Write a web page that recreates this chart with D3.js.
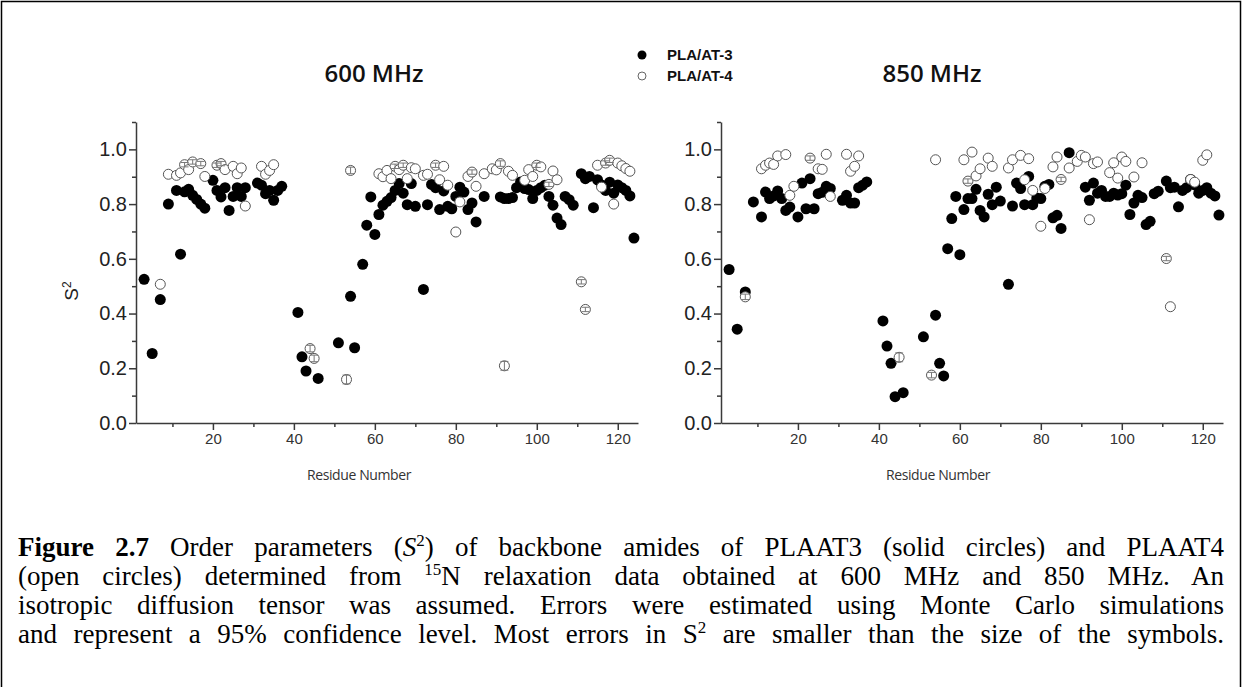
<!DOCTYPE html>
<html>
<head>
<meta charset="utf-8">
<script src="https://cdn.jsdelivr.net/npm/d3@7"></script>
<style>
body { margin: 0; background: #fff; }
svg { display: block; }
.axis path, .axis line { stroke: #3a3a3a; stroke-width: 1.5; }
.ylab text { font-family: "Liberation Sans", Arial, sans-serif; font-size: 20px; fill: #222; }
.xlab text { font-family: "Liberation Sans", Arial, sans-serif; font-size: 15px; fill: #333; }
</style>
</head>
<body>
<svg width="1246" height="687"></svg>
<script>
// S2 values: [residue, S2]
var s2_600_plaat3 = [[3,0.525],[5,0.254],[7,0.451],[9,0.80],[11,0.85],[12,0.617],[13,0.845],[14,0.854],[15,0.832],[16,0.817],[17,0.80],[18,0.785],[20,0.887],[21,0.85],[22,0.826],[23,0.86],[24,0.777],[25,0.828],[26,0.86],[27,0.828],[28,0.86],[31,0.877],[32,0.869],[33,0.838],[34,0.85],[35,0.814],[36,0.85],[37,0.865],
    [41,0.404],[42,0.242],[43,0.19],[46,0.163],[51,0.293],[54,0.463],[55,0.275],[57,0.58],[58,0.723],[59,0.826],[60,0.689],[61,0.762],[62,0.796],[63,0.81],[64,0.824],[65,0.85],[66,0.875],[67,0.84],[68,0.798],[69,0.875],[70,0.792],[72,0.488],[73,0.798],[74,0.872],[75,0.86],[76,0.78],[77,0.848],[78,0.792],[79,0.783],[80,0.828],[81,0.862],[82,0.844],[83,0.78],[84,0.804],[85,0.735],[87,0.828],
    [91,0.826],[92,0.82],[93,0.82],[94,0.824],[95,0.86],[96,0.881],[97,0.857],[98,0.853],[99,0.82],[100,0.85],[101,0.86],[102,0.869],[103,0.828],[104,0.796],[105,0.749],[106,0.725],[107,0.828],[108,0.816],[109,0.796],[111,0.911],[112,0.893],[113,0.901],[114,0.787],[115,0.889],[116,0.87],[117,0.85],[118,0.88],[119,0.84],[120,0.87],[121,0.86],[122,0.85],[123,0.83],[124,0.676]];

var s2_600_plaat4 = [[7,0.507],[9,0.909],[11,0.905],[12,0.914],[13,0.944],[14,0.926],[15,0.954],[17,0.948],[18,0.901],[21,0.942],[22,0.948],[23,0.926],[25,0.938],[26,0.911],[27,0.932],[28,0.793],[32,0.938],[33,0.909],[34,0.923],[35,0.944],
    [44,0.272],[45,0.236],[53,0.159],[54,0.923],[61,0.911],[62,0.90],[63,0.923],[64,0.893],[65,0.938],[66,0.926],[67,0.942],[68,0.893],[69,0.933],[70,0.929],[72,0.905],[73,0.909],[75,0.942],[76,0.889],[77,0.938],[78,0.869],[80,0.698],[81,0.808],[83,0.901],[84,0.917],[85,0.865],[87,0.911],[89,0.929],[90,0.925],
    [91,0.948],[92,0.209],[93,0.92],[94,0.905],[97,0.887],[98,0.926],[99,0.901],[100,0.942],[101,0.936],[103,0.872],[104,0.921],[105,0.889],[111,0.516],[112,0.415],[115,0.942],[116,0.862],[117,0.95],[118,0.96],[119,0.80],[120,0.95],[121,0.94],[122,0.93],[123,0.92]];

var s2_850_plaat3 = [[3,0.561],[5,0.343],[7,0.479],[9,0.808],[11,0.753],[12,0.844],[13,0.82],[14,0.83],[15,0.848],[16,0.82],[17,0.777],[18,0.789],[20,0.753],[21,0.877],[22,0.783],[23,0.893],[24,0.783],[25,0.838],[26,0.843],[27,0.865],[28,0.857],[31,0.814],[32,0.832],[33,0.804],[34,0.804],[35,0.86],[36,0.869],[37,0.881],
    [41,0.373],[42,0.281],[43,0.218],[44,0.096],[46,0.111],[51,0.315],[54,0.394],[55,0.218],[56,0.172],[57,0.637],[58,0.747],[59,0.828],[60,0.615],[61,0.78],[62,0.82],[63,0.82],[64,0.854],[65,0.777],[66,0.753],[67,0.836],[68,0.798],[69,0.862],[70,0.811],[72,0.507],[73,0.793],[74,0.877],[75,0.857],[76,0.798],[77,0.901],[78,0.798],[79,0.822],[80,0.82],[81,0.865],[82,0.872],[83,0.75],[84,0.759],[85,0.711],[87,0.988],
    [91,0.862],[92,0.814],[93,0.877],[94,0.84],[95,0.85],[96,0.828],[97,0.828],[98,0.84],[99,0.833],[100,0.838],[101,0.869],[102,0.762],[103,0.804],[104,0.832],[105,0.824],[106,0.725],[107,0.737],[108,0.838],[109,0.847],[111,0.884],[112,0.86],[113,0.862],[114,0.79],[115,0.85],[116,0.86],[117,0.89],[118,0.87],[119,0.84],[120,0.85],[121,0.86],[122,0.84],[123,0.83],[124,0.76]];

var s2_850_plaat4 = [[7,0.461],[11,0.929],[12,0.942],[13,0.95],[14,0.945],[15,0.976],[17,0.981],[18,0.832],[19,0.865],[23,0.968],[25,0.929],[26,0.927],[27,0.982],[28,0.828],[32,0.982],[33,0.92],[34,0.938],[35,0.976],
    [45,0.24],[53,0.175],[54,0.962],[61,0.962],[62,0.884],[63,0.99],[64,0.903],[65,0.929],[67,0.968],[68,0.938],[72,0.932],[73,0.962],[75,0.978],[76,0.889],[77,0.966],[78,0.85],[80,0.719],[81,0.857],[83,0.936],[84,0.972],[85,0.89],[87,0.932],[89,0.956],[90,0.978],
    [91,0.972],[92,0.743],[93,0.948],[94,0.954],[97,0.915],[98,0.951],[99,0.895],[100,0.972],[101,0.956],[103,0.899],[105,0.951],[111,0.601],[112,0.425],[117,0.89],[118,0.88],[120,0.96],[121,0.98]];

// visible error bars on PLAAT4 points: [residue, error]
var err_600_plaat4 = [[13,0.008],[15,0.008],[17,0.008],[21,0.008],[22,0.008],[44,0.012],[45,0.012],[53,0.016],[54,0.012],[65,0.008],[67,0.008],[75,0.008],[84,0.008],[91,0.01],[92,0.016],[100,0.008],[103,0.008],[111,0.008],[112,0.008],[117,0.008],[118,0.008]];
var err_850_plaat4 = [[7,0.01],[23,0.008],[45,0.016],[53,0.01],[62,0.008],[85,0.008],[111,0.008]];

var xMajor = [20, 40, 60, 80, 100, 120];
var xMinor = [10, 30, 50, 70, 90, 110];
var yMajor = [0, 0.2, 0.4, 0.6, 0.8, 1.0];
var yMinor = [0.1, 0.3, 0.5, 0.7, 0.9, 1.1];
var legendNames = ['PLA/AT-3', 'PLA/AT-4'];

var svg = d3.select('svg');

// frame round the figure
svg.append('rect')
    .attr('x', 1.5).attr('y', 1.5)
    .attr('width', 1239).attr('height', 720)
    .attr('fill', 'none').attr('stroke', '#000').attr('stroke-width', 1.5);

var panels = [
    {title: '600 MHz', left: 136, titleX: 374, labelX: 359, solid: s2_600_plaat3, open: s2_600_plaat4, err: err_600_plaat4, yTitle: true},
    {title: '850 MHz', left: 721, titleX: 932, labelX: 938, solid: s2_850_plaat3, open: s2_850_plaat4, err: err_850_plaat4, yTitle: false}
];

var plotW = 502, plotTop = 122, plotBottom = 423;

var yScale = d3.scaleLinear().domain([0, 1.1]).range([plotBottom, plotTop]);

panels.forEach(function(p) {
    var xScale = d3.scaleLinear().domain([1, 125]).range([p.left, p.left + plotW]);

    // y axis
    svg.append('g').attr('class', 'axis ylab')
        .attr('transform', 'translate(' + p.left + ',0)')
        .call(d3.axisLeft(yScale).tickValues(yMajor).tickFormat(d3.format('.1f'))
            .tickSize(7).tickSizeOuter(0).tickPadding(2));
    svg.append('g').attr('class', 'axis')
        .attr('transform', 'translate(' + p.left + ',0)')
        .call(d3.axisLeft(yScale).tickValues(yMinor).tickFormat('').tickSize(4).tickSizeOuter(0))
        .select('.domain').remove();

    // x axis
    svg.append('g').attr('class', 'axis xlab')
        .attr('transform', 'translate(0,' + plotBottom + ')')
        .call(d3.axisBottom(xScale).tickValues(xMajor).tickSize(7).tickSizeOuter(0).tickPadding(3));
    svg.append('g').attr('class', 'axis')
        .attr('transform', 'translate(0,' + plotBottom + ')')
        .call(d3.axisBottom(xScale).tickValues(xMinor).tickFormat('').tickSize(4).tickSizeOuter(0))
        .select('.domain').remove();

    svg.append('text')
        .attr('x', p.labelX).attr('y', 480)
        .attr('text-anchor', 'middle')
        .style('font-family', '"Open Sans", sans-serif').style('font-size', '14px')
        .style('fill', '#333').style('letter-spacing', '-0.4px')
        .text('Residue Number');

    svg.append('text')
        .attr('x', p.titleX).attr('y', 82)
        .attr('text-anchor', 'middle')
        .style('font-family', '"Open Sans", sans-serif').style('font-size', '24px')
        .style('font-weight', 600).style('fill', '#111')
        .text(p.title);

    if (p.yTitle) {
        var yt = svg.append('text')
            .attr('transform', 'translate(78,291) rotate(-90)')
            .attr('text-anchor', 'middle')
            .style('font-family', '"Liberation Sans", Arial, sans-serif').style('font-size', '19px')
            .style('fill', '#222');
        yt.append('tspan').text('S');
        yt.append('tspan').attr('dy', -7).style('font-size', '12px').text('2');
    }

    // solid circles
    svg.append('g').selectAll('circle')
        .data(p.solid).enter().append('circle')
        .attr('cx', function(d) { return xScale(d[0]); })
        .attr('cy', function(d) { return yScale(d[1]); })
        .attr('r', 5.5)
        .attr('fill', '#000');

    // open circles
    svg.append('g').selectAll('circle')
        .data(p.open).enter().append('circle')
        .attr('cx', function(d) { return xScale(d[0]); })
        .attr('cy', function(d) { return yScale(d[1]); })
        .attr('r', 5)
        .attr('fill', '#fff')
        .attr('stroke', '#555').attr('stroke-width', 1);

    // error bars on open circles
    var lookup = new Map(p.open);
    var eb = svg.append('g').attr('stroke', '#777').attr('stroke-width', 1);
    p.err.forEach(function(e) {
        var v = lookup.get(e[0]);
        var cx = xScale(e[0]);
        var y1 = yScale(v - e[1]), y2 = yScale(v + e[1]);
        eb.append('line').attr('x1', cx).attr('x2', cx).attr('y1', y1).attr('y2', y2);
        eb.append('line').attr('x1', cx - 4).attr('x2', cx + 4).attr('y1', y1).attr('y2', y1);
        eb.append('line').attr('x1', cx - 4).attr('x2', cx + 4).attr('y1', y2).attr('y2', y2);
    });
});

// legend
var legend = svg.append('g').attr('transform', 'translate(642,55)');
legendNames.forEach(function(name, i) {
    var row = legend.append('g').attr('transform', 'translate(0,' + (i * 21) + ')');
    if (i === 0) {
        row.append('circle').attr('r', 4.5).attr('fill', '#000');
    } else {
        row.append('circle').attr('r', 4).attr('fill', '#fff').attr('stroke', '#666').attr('stroke-width', 1);
    }
    row.append('text').attr('x', 25).attr('y', 5)
        .style('font-family', '"Liberation Sans", Arial, sans-serif').style('font-size', '15px')
        .style('font-weight', 'bold').style('fill', '#111')
        .text(name);
});

// caption, justified lines
var captionLines = [
    [{t: 'Figure 2.7', b: true}, {t: ' Order parameters ('}, {t: 'S', i: true}, {t: '2', sup: true}, {t: ') of backbone amides of PLAAT3 (solid circles) and PLAAT4'}],
    [{t: '(open circles) determined from '}, {t: '15', sup: true}, {t: 'N relaxation data obtained at 600 MHz and 850 MHz. An'}],
    [{t: 'isotropic diffusion tensor was assumed. Errors were estimated using Monte Carlo simulations'}],
    [{t: 'and represent a 95% confidence level. Most errors in S'}, {t: '2', sup: true}, {t: ' are smaller than the size of the symbols.'}]
];
var capLeft = 18, capRight = 1224, capTop = 556, capStep = 29;

captionLines.forEach(function(parts, li) {
    var txt = svg.append('text')
        .attr('x', capLeft).attr('y', capTop + li * capStep)
        .style('font-family', '"Liberation Serif", "Times New Roman", serif')
        .style('font-size', '27px').style('fill', '#000');
    var shifted = false;
    parts.forEach(function(p) {
        var ts = txt.append('tspan').text(p.t);
        if (p.b) ts.style('font-weight', 'bold');
        if (p.i) ts.style('font-style', 'italic');
        if (p.sup) { ts.attr('dy', -10).style('font-size', '17px'); shifted = true; }
        else if (shifted) { ts.attr('dy', 10); shifted = false; }
    });
    var natural = txt.node().getComputedTextLength();
    var spaces = parts.map(function(p) { return p.t; }).join('').split(' ').length - 1;
    var extra = (capRight - capLeft - natural) / spaces;
    if (extra > 0) txt.style('word-spacing', extra + 'px');
    else txt.attr('textLength', capRight - capLeft).attr('lengthAdjust', 'spacingAndGlyphs');
});
</script>
</body>
</html>
